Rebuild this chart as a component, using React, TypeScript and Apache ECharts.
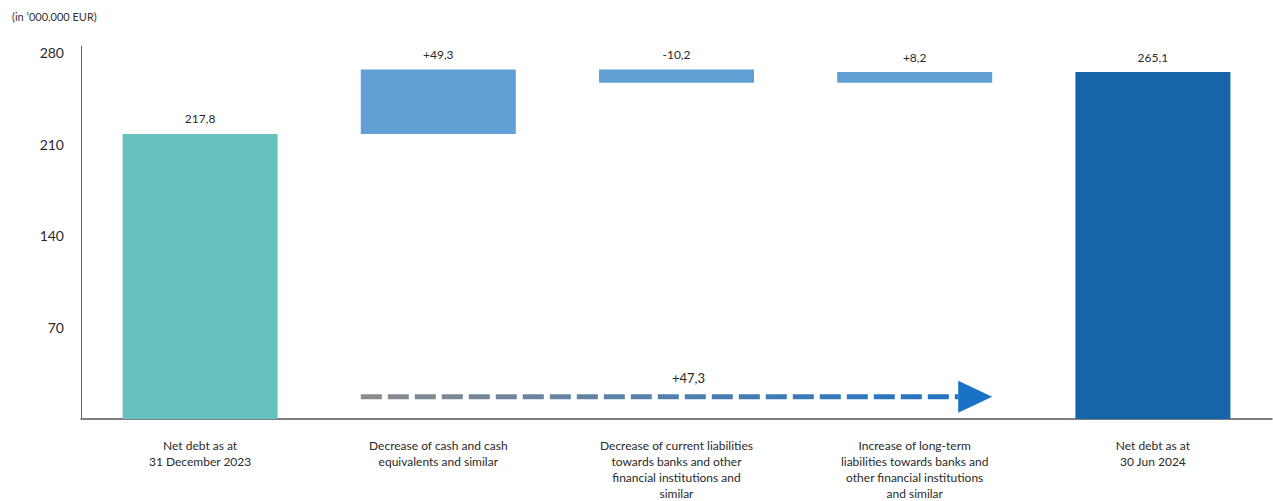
import React, { useEffect, useRef } from "react";
import * as echarts from "echarts";

const categories = [
  "Net debt as at\n31 December 2023",
  "Decrease of cash and cash\nequivalents and similar",
  "Decrease of current liabilities\ntowards banks and other\nfinancial institutions and\nsimilar",
  "Increase of long-term\nliabilities towards banks and\nother financial institutions\nand similar",
  "Net debt as at\n30 Jun 2024",
];
const startValue = 217.8;
const changes = [49.3, -10.2, 8.2];
const endValue = 265.1;
const netChangeLabel = "+47,3";
const arrowLevel = 17;
const yTicks = [70, 140, 210, 280];
const unitLabel = "(in \u2019000,000 EUR)";

const fmt = (v: number, signed: boolean) => {
  const s = Math.abs(v).toFixed(1).replace(".", ",");
  if (!signed) return s;
  return (v >= 0 ? "+" : "-") + s;
};

export default function App() {
  const ref = useRef<HTMLDivElement>(null);
  useEffect(() => {
    document.body.style.margin = "0";
    const chart = echarts.init(ref.current!, null, { renderer: "svg" });
    const font = "Lato, 'Noto Sans', sans-serif";
    const base: number[] = [0];
    const vis: any[] = [];
    const labels: string[] = [fmt(startValue, false)];
    vis.push({ value: startValue, itemStyle: { color: "#66C1BF" } });
    let running = startValue;
    changes.forEach((c) => {
      const next = running + c;
      base.push(Math.min(running, next));
      vis.push({ value: Math.abs(c), itemStyle: { color: "#629FD5" } });
      labels.push(fmt(c, true));
      running = next;
    });
    base.push(0);
    vis.push({ value: endValue, itemStyle: { color: "#1764A9" } });
    labels.push(fmt(endValue, false));

    const barWidth = 155;
    chart.setOption({
      animation: false,
      grid: { left: 81, right: 1, top: 46, bottom: 78, containLabel: false },
      xAxis: {
        type: "category",
        data: categories,
        axisLine: { lineStyle: { color: "#555", width: 1.5 } },
        axisTick: { show: false },
        axisLabel: {
          interval: 0,
          color: "#2a2a2a",
          fontFamily: font,
          fontSize: 12,
          lineHeight: 16,
          margin: 18,
        },
      },
      yAxis: {
        type: "value",
        min: 0,
        max: 285,
        interval: 70,
        axisLine: { show: true, lineStyle: { color: "#666", width: 1 } },
        axisTick: { show: false },
        splitLine: { show: false },
        axisLabel: {
          color: "#2a2a2a",
          fontFamily: font,
          fontSize: 14,
          margin: 17,
          showMinLabel: false,
          showMaxLabel: false,
          formatter: (v: number) => (yTicks.includes(v) ? String(v) : ""),
        },
      },
      series: [
        {
          type: "bar",
          stack: "w",
          data: base,
          barWidth,
          itemStyle: { color: "transparent" },
          silent: true,
        },
        {
          type: "bar",
          stack: "w",
          data: vis,
          barWidth,
          label: {
            show: true,
            position: "top",
            distance: 9,
            color: "#2a2a2a",
            fontFamily: font,
            fontSize: 12,
            formatter: (p: any) => labels[p.dataIndex],
          },
        },
      ],
    });

    const p1 = chart.convertToPixel({ gridIndex: 0 }, [1, arrowLevel]) as number[];
    const p3 = chart.convertToPixel({ gridIndex: 0 }, [3, arrowLevel]) as number[];
    const x0 = p1[0] - barWidth / 2;
    const x1 = p3[0] + barWidth / 2;
    const y = p1[1];
    const headLen = 34;
    chart.setOption({
      graphic: [
        {
          type: "text",
          left: 12,
          top: 11,
          style: { text: unitLabel, fill: "#333", font: `11px ${font}` },
        },
        {
          type: "line",
          shape: { x1: x0, y1: y, x2: x1 - headLen, y2: y },
          style: {
            lineWidth: 5,
            lineDash: [21, 6],
            stroke: new echarts.graphic.LinearGradient(
              x0,
              y,
              x1,
              y,
              [
                { offset: 0, color: "#8c8c8c" },
                { offset: 0.5, color: "#4f7fae" },
                { offset: 1, color: "#1a72c6" },
              ],
              true
            ),
          },
        },
        {
          type: "polygon",
          shape: {
            points: [
              [x1 - headLen, y - 16],
              [x1, y],
              [x1 - headLen, y + 16],
            ],
          },
          style: { fill: "#1a72c6" },
        },
        {
          type: "text",
          x: (x0 + x1) / 2 + 12,
          y: y - 19,
          style: {
            text: netChangeLabel,
            fill: "#2a2a2a",
            font: `13px ${font}`,
            align: "center",
            verticalAlign: "middle",
          },
        },
      ],
    });
    return () => chart.dispose();
  }, []);
  return <div ref={ref} style={{ width: 1273, height: 501 }} />;
}
